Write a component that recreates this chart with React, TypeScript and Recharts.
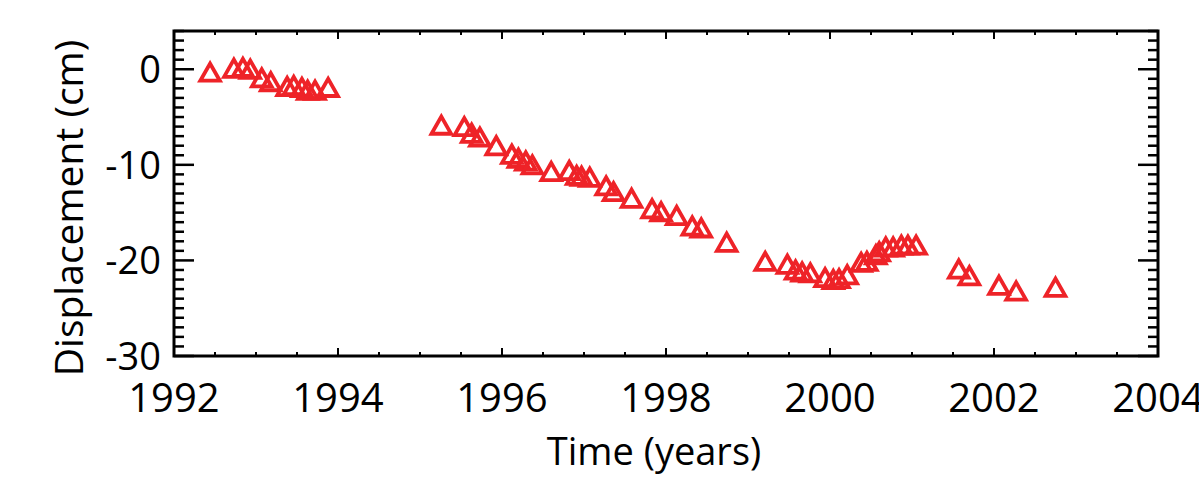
import { ReferenceArea, Scatter, ScatterChart, XAxis, YAxis } from "recharts";

// observation epochs (decimal years) and displacement (cm)
const times = [
  1992.44, 1992.73, 1992.84, 1992.93, 1993.07, 1993.18, 1993.38, 1993.46, 1993.56, 1993.63, 1993.72, 1993.88,
  1995.26, 1995.54, 1995.63, 1995.73, 1995.93, 1996.12, 1996.2, 1996.29, 1996.37, 1996.6, 1996.82, 1996.91,
  1996.97, 1997.07, 1997.27, 1997.36, 1997.58, 1997.83, 1997.94, 1998.13, 1998.32, 1998.43, 1998.74,
  1999.21, 1999.48, 1999.58, 1999.66, 1999.76, 1999.94, 2000.04, 2000.11, 2000.21, 2000.38, 2000.45, 2000.56,
  2000.6, 2000.68, 2000.77, 2000.87, 2000.95, 2001.05, 2001.57, 2001.7, 2002.06, 2002.27, 2002.75,
];
const displacement = [
  -0.3, 0.1, 0.2, 0.0, -0.9, -1.3, -1.8, -1.7, -1.9, -2.2, -2.2, -1.9,
  -5.85, -6.0, -6.7, -7.1, -8.0, -8.9, -9.3, -9.6, -10.0, -10.7, -10.6, -11.1,
  -11.2, -11.3, -12.2, -12.8, -13.5, -14.6, -14.9, -15.3, -16.4, -16.6, -18.1,
  -20.1, -20.4, -21.0, -21.2, -21.3, -21.8, -22.0, -21.9, -21.5, -20.2, -20.1, -19.4,
  -19.1, -18.6, -18.6, -18.4, -18.4, -18.4, -20.9, -21.6, -22.6, -23.2, -22.8,
];

const yearLabels = [1992, 1994, 1996, 1998, 2000, 2002, 2004];
const cmLabels = [0, -10, -20, -30];
const xDomain = [1992, 2004];
const yDomain = [-30, 4];

const xTicks = Array.from({ length: 25 }, (_, i) => 1992 + i * 0.5);
const yTicks = Array.from({ length: 35 }, (_, i) => -30 + i);

const data = times.map((t, i) => ({ t, d: displacement[i] }));

const RED = "#ee2328";
const FONT = "'Open Sans', sans-serif";
const PLOT_H = 325;
const PLOT_W = 984;

const Triangle = (props: any) => {
  const { cx, cy } = props;
  return (
    <path
      d={`M${cx - 9.8},${cy + 8.6}L${cx},${cy - 8.6}L${cx + 9.8},${cy + 8.6}Z`}
      fill="none"
      stroke={RED}
      strokeWidth={3.8}
      strokeLinejoin="miter"
    />
  );
};

const XTick = (props: any) => {
  const { x, y, payload } = props;
  const major = yearLabels.includes(payload.value);
  const len = major ? 8 : 4;
  return (
    <g>
      <line x1={x} x2={x} y1={y} y2={y - len} stroke="#000" strokeWidth={2} />
      <line x1={x} x2={x} y1={y - PLOT_H} y2={y - PLOT_H + len} stroke="#000" strokeWidth={2} />
      {major && (
        <text x={x} y={y + 56} textAnchor="middle" fontSize={40} fontFamily={FONT} fill="#000">
          {payload.value}
        </text>
      )}
    </g>
  );
};

const YTick = (props: any) => {
  const { x, y, payload } = props;
  const major = cmLabels.includes(payload.value);
  const len = major ? 20 : 10;
  return (
    <g>
      <line x1={x} x2={x + len} y1={y} y2={y} stroke="#000" strokeWidth={2.5} />
      <line x1={x + PLOT_W} x2={x + PLOT_W - len} y1={y} y2={y} stroke="#000" strokeWidth={2.5} />
      {major && (
        <text x={x - 13} y={y} dy="0.36em" textAnchor="end" fontSize={38} fontFamily={FONT} fill="#000">
          {payload.value}
        </text>
      )}
    </g>
  );
};

export default function App() {
  return (
    <div style={{ position: "absolute", left: 0, top: 0, background: "#fff" }}>
      <ScatterChart width={1199} height={490} margin={{ top: 31, right: 41, bottom: 74, left: 64 }}>
        <XAxis
          type="number"
          dataKey="t"
          domain={xDomain}
          ticks={xTicks}
          interval={0}
          axisLine={false}
          tickLine={false}
          tickSize={0}
          tickMargin={0}
          tick={<XTick />}
          height={60}
          allowDataOverflow
        />
        <YAxis
          type="number"
          dataKey="d"
          domain={yDomain}
          ticks={yTicks}
          interval={0}
          axisLine={false}
          tickLine={false}
          tickSize={0}
          tickMargin={0}
          tick={<YTick />}
          width={110}
          allowDataOverflow
        />
        <ReferenceArea
          x1={xDomain[0]}
          x2={xDomain[1]}
          y1={yDomain[0]}
          y2={yDomain[1]}
          fill="none"
          stroke="#000"
          strokeWidth={3}
          ifOverflow="visible"
        />
        <Scatter data={data} shape={<Triangle />} isAnimationActive={false} />
        <text x={654} y={465} textAnchor="middle" fontSize={38} fontFamily={FONT} fill="#000">
          Time (years)
        </text>
        <text transform="translate(83, 208) rotate(-90)" textAnchor="middle" fontSize={39} fontFamily={FONT} fill="#000">
          Displacement (cm)
        </text>
      </ScatterChart>
    </div>
  );
}
